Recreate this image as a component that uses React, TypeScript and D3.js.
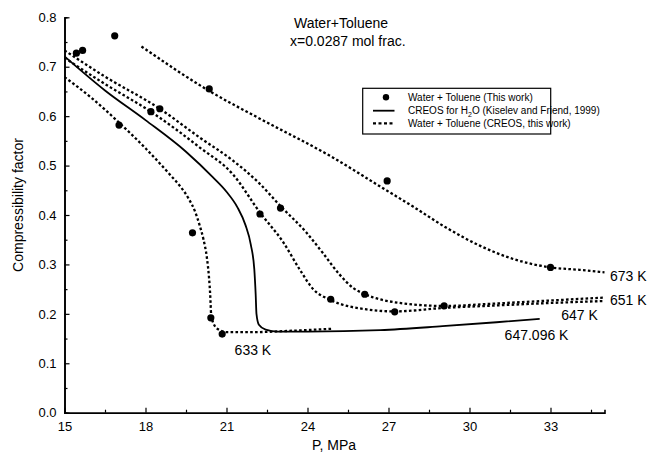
import React, { useRef, useEffect } from 'react'
import * as d3 from 'd3'

const WIDTH = 651
const HEIGHT = 453
const MARGIN = { top: 17.3, right: 46.5, bottom: 40.3, left: 64.5 }
const FONT = '"Liberation Sans", Arial, Helvetica, sans-serif'

const xTicks = [15, 18, 21, 24, 27, 30, 33]
const xMinorTicks = [16.5, 19.5, 22.5, 25.5, 28.5, 31.5, 34.5]
const yTicks = [0, 0.1, 0.2, 0.3, 0.4, 0.5, 0.6, 0.7, 0.8]
const yMinorTicks = [0.05, 0.15, 0.25, 0.35, 0.45, 0.55, 0.65, 0.75]

// measured points (Water + Toluene, this work)
const expP = [15.44, 15.67, 16.86, 17.02, 18.2, 18.53, 19.74, 20.36, 20.42, 20.84, 22.24, 23.0, 24.86, 26.12, 26.95, 27.23, 29.06, 33.0]
const expZ = [0.7275, 0.733, 0.7626, 0.582, 0.609, 0.615, 0.364, 0.655, 0.192, 0.159, 0.402, 0.414, 0.2295, 0.2397, 0.469, 0.204, 0.216, 0.294]

// CREOS for pure water, 647.096 K
const h2oP = [15, 16.5, 18.0, 19.5, 20.5, 21.0, 21.4, 21.7, 21.9, 22.03, 22.08, 22.11, 22.2, 22.45, 22.9, 24.0, 26.7, 29.0, 31.0, 32.6]
const h2oZ = [0.721, 0.652, 0.592, 0.528, 0.476, 0.447, 0.416, 0.38, 0.34, 0.29, 0.24, 0.2, 0.178, 0.168, 0.164, 0.164, 0.167, 0.175, 0.183, 0.19]

// CREOS mixture isotherms
const t633P = [15, 16.0, 17.0, 18.0, 18.9, 19.3, 19.6, 19.85, 20.0, 20.15, 20.27, 20.35, 20.4, 20.43, 20.55, 20.75, 21.0, 22.0, 23.5, 24.95]
const t633Z = [0.679, 0.637, 0.588, 0.535, 0.482, 0.457, 0.433, 0.405, 0.38, 0.35, 0.315, 0.275, 0.235, 0.2, 0.177, 0.167, 0.163, 0.163, 0.166, 0.17]

const t647P = [15, 16.5, 18.2, 20.0, 21.24, 22.24, 23.1, 23.72, 24.21, 24.86, 26.19, 27.23, 29.06, 31, 33, 35]
const t647Z = [0.718, 0.665, 0.609, 0.537, 0.482, 0.405, 0.345, 0.289, 0.25, 0.228, 0.209, 0.205, 0.212, 0.217, 0.222, 0.226]

const t651P = [15, 16.5, 18.53, 20.0, 21.24, 22.2, 23.0, 23.95, 24.57, 25.18, 25.7, 26.12, 27.42, 29.06, 31, 33, 35]
const t651Z = [0.733, 0.68, 0.615, 0.557, 0.51, 0.465, 0.418, 0.365, 0.323, 0.28, 0.252, 0.24, 0.222, 0.216, 0.221, 0.227, 0.233]

const t673P = [17.85, 20.36, 22.3, 24.95, 26.68, 27.91, 29.15, 30.38, 31.62, 33.0, 34.08, 35]
const t673Z = [0.741, 0.651, 0.593, 0.516, 0.458, 0.417, 0.374, 0.338, 0.311, 0.294, 0.289, 0.284]

const curveLabels = ['673 K', '651 K', '647 K', '647.096 K', '633 K']
const labelP = [35.2, 35.2, 33.4, 31.3, 21.3]
const labelZ = [0.266, 0.218, 0.187, 0.147, 0.117]

const x = d3.scaleLinear().domain([15, 35]).range([MARGIN.left, WIDTH - MARGIN.right])
const y = d3.scaleLinear().domain([0, 0.8]).range([HEIGHT - MARGIN.bottom, MARGIN.top])

const lineGen = d3
  .line<[number, number]>()
  .x(d => x(d[0]))
  .y(d => y(d[1]))
  .curve(d3.curveMonotoneX)

const zip = (p: number[], z: number[]) => p.map((v, i) => [v, z[i]] as [number, number])

const dottedSeries = [
  zip(t633P, t633Z),
  zip(t647P, t647Z),
  zip(t651P, t651Z),
  zip(t673P, t673Z)
]

const DOT_STYLE = { stroke: '#000', strokeWidth: 2.3, strokeDasharray: '2.6,2.3', fill: 'none' }

const App = () => {
  const xAxisRef = useRef<SVGGElement>(null)
  const yAxisRef = useRef<SVGGElement>(null)

  useEffect(() => {
    const gx = d3.select(xAxisRef.current)
    gx.selectAll('*').remove()
    gx.append('g').call(
      d3.axisBottom(x).tickValues(xMinorTicks).tickSize(-3).tickFormat(() => '')
    )
    gx.append('g').call(
      d3.axisBottom(x).tickValues(xTicks).tickSizeInner(-5).tickSizeOuter(0).tickPadding(9).tickFormat(d3.format('d'))
    )

    const gy = d3.select(yAxisRef.current)
    gy.selectAll('*').remove()
    gy.append('g').call(
      d3.axisLeft(y).tickValues(yMinorTicks).tickSize(-3).tickFormat(() => '')
    )
    gy.append('g').call(
      d3.axisLeft(y).tickValues(yTicks).tickSizeInner(-5).tickSizeOuter(0).tickPadding(8).tickFormat(d3.format('.1f'))
    )

    for (const g of [gx, gy]) {
      g.selectAll('path.domain').attr('stroke', '#000').attr('stroke-width', 1.6)
      g.selectAll('line').attr('stroke', '#000').attr('stroke-width', 1.2)
      g.selectAll('text').attr('font-family', FONT).attr('font-size', 13).attr('fill', '#000')
    }
  }, [])

  return (
    <svg
      width={WIDTH}
      height={HEIGHT}
      style={{ position: 'absolute', left: 0, top: 0, background: '#fff' }}
      fontFamily={FONT}
    >
      <g ref={xAxisRef} transform={`translate(0,${y(0)})`} />
      <g ref={yAxisRef} transform={`translate(${x(15)},0)`} />

      {dottedSeries.map((s, i) => (
        <path key={i} d={lineGen(s) ?? ''} {...DOT_STYLE} />
      ))}
      <path d={lineGen(zip(h2oP, h2oZ)) ?? ''} stroke="#000" strokeWidth={1.8} fill="none" />

      {expP.map((p, i) => (
        <circle key={i} cx={x(p)} cy={y(expZ[i])} r={3.6} fill="#000" />
      ))}

      {curveLabels.map((t, i) => (
        <text key={t} x={x(labelP[i])} y={y(labelZ[i])} fontSize={14}>
          {t}
        </text>
      ))}

      <text x={294} y={28} fontSize={14}>Water+Toluene</text>
      <text x={290} y={46} fontSize={14}>x=0.0287 mol frac.</text>

      {/* legend */}
      <g>
        <rect x={362.7} y={88.3} width={188} height={45.7} fill="#fff" stroke="#000" strokeWidth={1.2} />
        <circle cx={386} cy={97.3} r={3.2} fill="#000" />
        <line x1={373} x2={394.5} y1={110.7} y2={110.7} stroke="#000" strokeWidth={1.8} />
        <line x1={373} x2={394.5} y1={123.3} y2={123.3} stroke="#000" strokeWidth={2.2} strokeDasharray="3,2.5" />
        <g fontSize={10}>
          <text x={408} y={100.8}>Water + Toluene (This work)</text>
          <text x={408} y={114.2}>
            CREOS for H<tspan fontSize={7} dy={2.5}>2</tspan>
            <tspan dy={-2.5}>O (Kiselev and Friend, 1999)</tspan>
          </text>
          <text x={408} y={126.8}>Water + Toluene (CREOS, this work)</text>
        </g>
      </g>

      <text x={334} y={450} fontSize={14} textAnchor="middle">P, MPa</text>
      <text transform="translate(23,205) rotate(-90)" fontSize={14} textAnchor="middle">
        Compressibility  factor
      </text>
    </svg>
  )
}

export default App
